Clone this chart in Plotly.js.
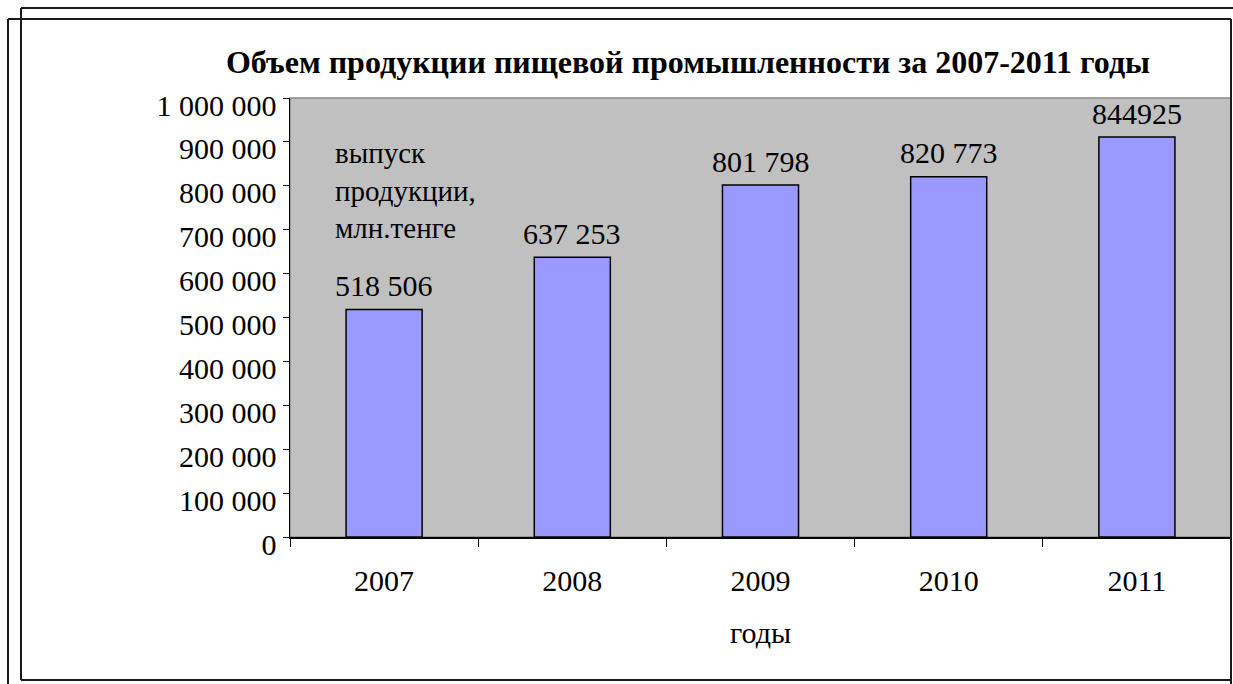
<!DOCTYPE html>
<html>
<head>
<meta charset="utf-8">
<script src="https://cdn.plot.ly/plotly-3.0.1.min.js"></script>
<style>
  html, body { margin: 0; padding: 0; background: #ffffff; }
  #chart { width: 1233px; height: 684px; }
</style>
</head>
<body>
<div id="chart"></div>
<script>
// ---- data ----
const years = ["2007", "2008", "2009", "2010", "2011"];
const outputValues = [518506, 637253, 801798, 820773, 911000]; // bar heights as drawn
const valueLabels = ["518 506", "637 253", "801 798", "820 773", "844925"]; // labels as printed
const chartTitle = "Объем продукции пищевой промышленности за 2007-2011 годы";
const seriesNote = "выпуск<br>продукции,<br>млн.тенге";
const xAxisTitle = "годы";

// ---- geometry helpers (plot area in pixels) ----
const W = 1233, H = 684;
const M = { l: 290, r: 2, t: 98, b: 147 };
const PW = W - M.l - M.r, PH = H - M.t - M.b;
const px = x => (x - M.l) / PW;
const py = y => (H - M.b - y) / PH;

const fontFam = "Liberation Serif, Times New Roman, serif";

function frameLine(x0, y0, x1, y1) {
  return { type: "line", xref: "paper", yref: "paper",
           x0: px(x0), y0: py(y0), x1: px(x1), y1: py(y1),
           line: { color: "#1a1a1a", width: 2 }, layer: "above" };
}

const shapes = [
  // plot-area border (grey)
  { type: "rect", xref: "paper", yref: "paper", x0: 0, y0: 0, x1: 1, y1: 1,
    line: { color: "#8a8a8a", width: 1.5 }, layer: "below" },
  // outer double frame
  frameLine(21, 8, 1233, 8),
  frameLine(21, 8, 21, 680),
  frameLine(8, 19, 1231, 19),
  frameLine(8, 19, 8, 684),
  frameLine(1231, 19, 1231, 684),
  frameLine(21, 680, 1231, 680)
];

// value labels above bars (x given as category index)
const annotations = years.map((y, i) => ({
  x: i, y: outputValues[i], xref: "x", yref: "y",
  text: valueLabels[i], showarrow: false,
  yanchor: "middle", yshift: 24,
  font: { family: fontFam, size: 30, color: "#000" }
}));
annotations.push({
  xref: "paper", yref: "paper", x: px(333), y: py(190),
  xanchor: "left", yanchor: "middle", align: "left",
  text: seriesNote, showarrow: false,
  font: { family: fontFam, size: 29, color: "#000" }
});

const trace = {
  type: "bar",
  x: years,
  y: outputValues,
  marker: { color: "#9999ff", line: { color: "#000000", width: 1.5 } },
  hoverinfo: "x+y"
};

const layout = {
  width: W, height: H,
  margin: M,
  paper_bgcolor: "#ffffff",
  plot_bgcolor: "#c0c0c0",
  separators: ", ",
  showlegend: false,
  bargap: 0.596,
  font: { family: fontFam, color: "#000" },
  title: {
    text: "<b>" + chartTitle + "</b>",
    xref: "container", yref: "container",
    x: 688 / W, y: 1 - 62 / H, xanchor: "center", yanchor: "middle",
    font: { family: fontFam, size: 32, color: "#000" }
  },
  xaxis: {
    type: "category",
    categoryorder: "array", categoryarray: years,
    range: [-0.5, years.length - 0.5], autorange: false,
    showline: true, linecolor: "#000", linewidth: 1.5,
    ticks: "outside", tickson: "boundaries", ticklen: 8, tickcolor: "#000", tickwidth: 1,
    tickangle: 0,
    ticklabelstandoff: 16,
    showgrid: false, zeroline: false,
    tickfont: { family: fontFam, size: 30, color: "#000" },
    title: { text: xAxisTitle, standoff: 26, font: { family: fontFam, size: 30, color: "#000" } }
  },
  yaxis: {
    range: [0, 1000000], autorange: false,
    dtick: 100000, tick0: 0,
    tickformat: ",d",
    showline: true, linecolor: "#000", linewidth: 1.5,
    ticks: "outside", ticklen: 6, tickcolor: "#000", tickwidth: 1,
    showgrid: false, zeroline: false,
    ticklabelshift: 7,
    tickfont: { family: fontFam, size: 30, color: "#000" }
  },
  shapes: shapes,
  annotations: annotations
};

Plotly.newPlot("chart", [trace], layout, { staticPlot: true, displayModeBar: false });
</script>
</body>
</html>
